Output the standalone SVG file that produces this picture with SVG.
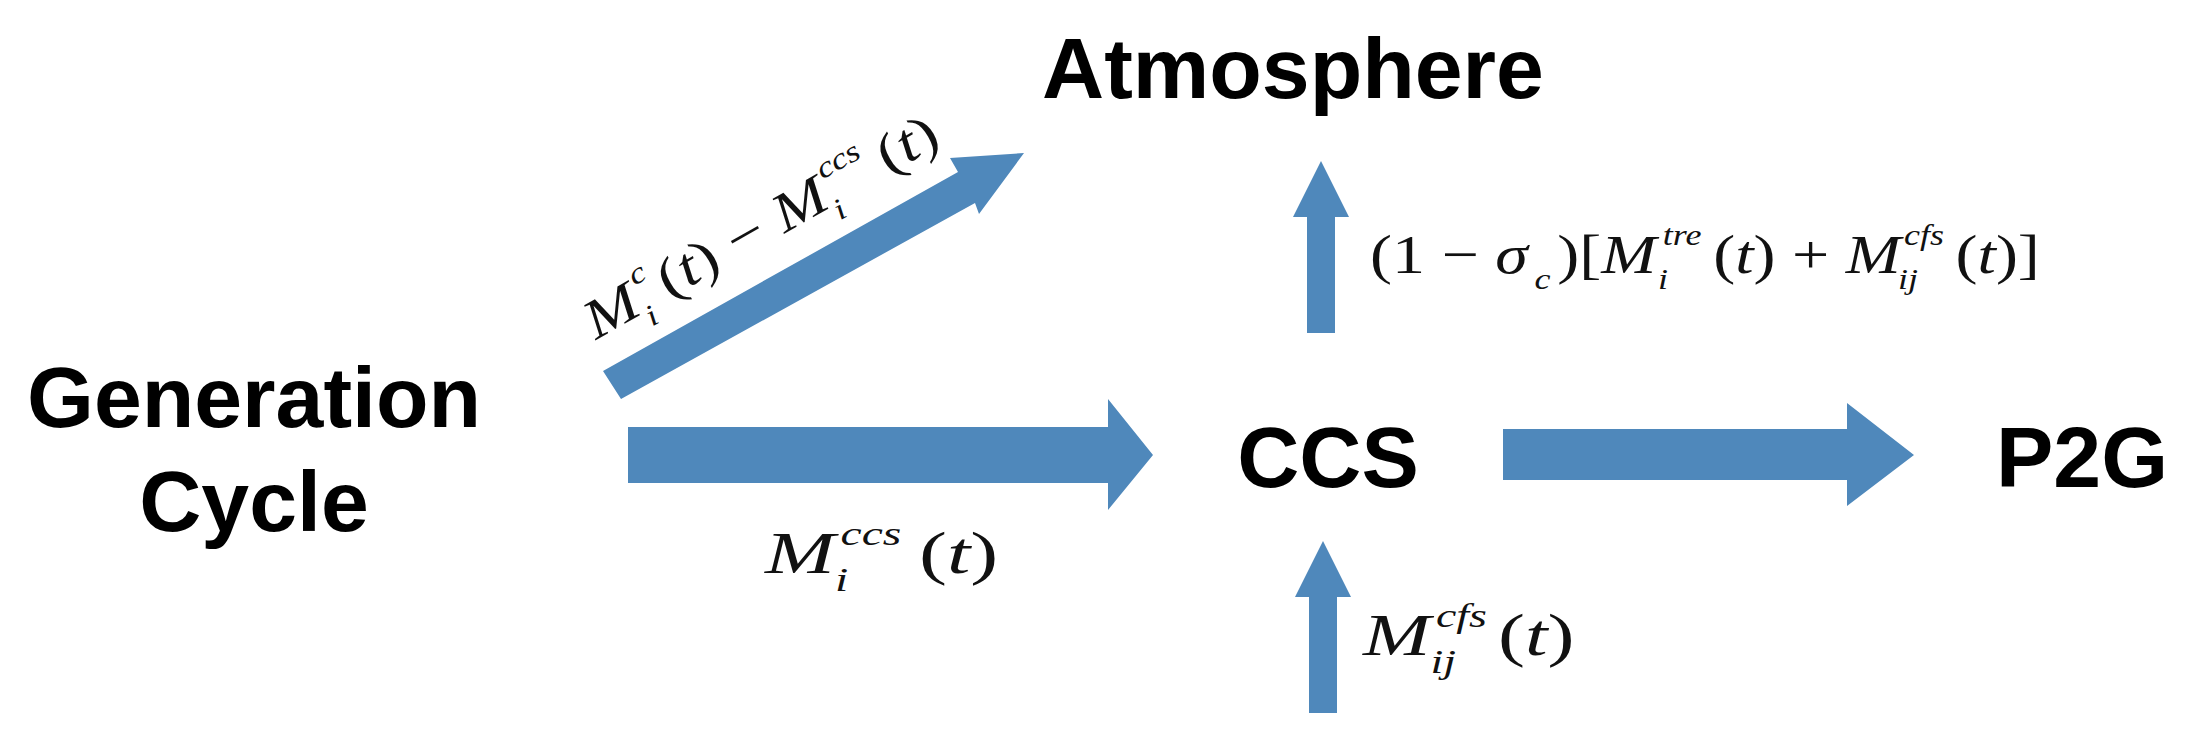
<svg xmlns="http://www.w3.org/2000/svg" width="2202" height="731" viewBox="0 0 2202 731">
<style>
.n{font-family:"Liberation Sans",Arial,sans-serif;font-weight:bold;font-size:86px;fill:#000}
.m{font-family:"Liberation Serif","Times New Roman",serif;fill:#111}
.i{font-style:italic}
.a{fill:#4F88BB}
</style>
<rect width="2202" height="731" fill="#fff"/>
<g id="connectors">
<polygon class="a" points="603,371 958,172 950,158 1024,153 979,214 975,203 621,399"/>
<polygon class="a" points="628,427 1108,427 1108,399 1153,455 1108,510 1108,483 628,483"/>
<polygon class="a" points="1503,429 1847,429 1847,403 1914,455 1847,506 1847,480 1503,480"/>
<polygon class="a" points="1307,333 1307,217 1293,217 1321,161 1349,217 1335,217 1335,333"/>
<polygon class="a" points="1309,713 1309,597 1295,597 1323,541 1351,597 1337,597 1337,713"/>
</g>
<g id="generation"><text class="n" x="254" y="427" text-anchor="middle">Generation</text><text class="n" x="254" y="531" text-anchor="middle">Cycle</text></g>
<g id="atmosphere"><text class="n" x="1293" y="98" text-anchor="middle">Atmosphere</text></g>
<g id="ccs"><text class="n" x="1328" y="487" text-anchor="middle">CCS</text></g>
<g id="p2g"><text class="n" x="2082" y="487" text-anchor="middle">P2G</text></g>
<g id="labels">
<g transform="translate(765,573) scale(1.4,1)">
<text class="m i" font-size="60" x="0" y="0">M</text>
<text class="m i" font-size="34" x="54" y="-28">ccs</text>
<text class="m i" font-size="34" x="50" y="18">i</text>
<text class="m" font-size="60" x="110" y="0">(<tspan class="i">t</tspan>)</text>
</g>
<g transform="translate(1370,273) scale(1.2,1)">
<text class="m" font-size="55" x="0" y="0">(1 − <tspan class="i">σ</tspan></text>
<text class="m i" font-size="30" x="137" y="16">c</text>
<text class="m" font-size="55" x="156" y="0">)[<tspan class="i">M</tspan></text>
<text class="m i" font-size="30" x="244" y="-28">tre</text>
<text class="m i" font-size="30" x="240" y="16">i</text>
<text class="m" font-size="55" x="286" y="0">(<tspan class="i">t</tspan>) + <tspan class="i">M</tspan></text>
<text class="m i" font-size="30" x="445" y="-28">cfs</text>
<text class="m i" font-size="30" x="440" y="16">ij</text>
<text class="m" font-size="55" x="488" y="0">(<tspan class="i">t</tspan>)]</text>
</g>
<g transform="translate(1363,655) scale(1.35,1)">
<text class="m i" font-size="60" x="0" y="0">M</text>
<text class="m i" font-size="34" x="54" y="-28">cfs</text>
<text class="m i" font-size="34" x="50" y="18">ij</text>
<text class="m" font-size="60" x="100" y="0">(<tspan class="i">t</tspan>)</text>
</g>
<g transform="translate(596,340) rotate(-29.5) scale(1.2,1)">
<text class="m i" font-size="55" x="0" y="0">M</text>
<text class="m i" font-size="30" x="50" y="-28">c</text>
<text class="m i" font-size="30" x="46" y="16">i</text>
<text class="m" font-size="55" x="70" y="0">(<tspan class="i">t</tspan>) − <tspan class="i">M</tspan></text>
<text class="m i" font-size="30" x="230" y="-28">ccs</text>
<text class="m i" font-size="30" x="226" y="16">i</text>
<text class="m" font-size="55" x="280" y="0">(<tspan class="i">t</tspan>)</text>
</g>
</g>
</svg>
